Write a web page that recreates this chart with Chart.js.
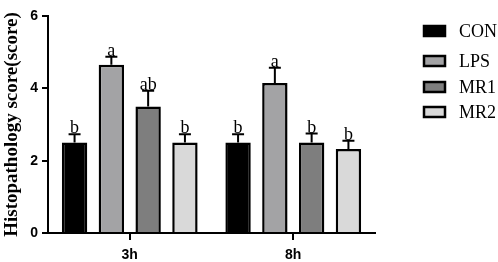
<!DOCTYPE html>
<html>
<head>
<meta charset="utf-8">
<script src="https://cdn.jsdelivr.net/npm/chart.js@4/dist/chart.umd.min.js"></script>
<style>
  html, body { margin: 0; padding: 0; background: white; }
  #wrap { width: 498px; height: 262px; }
</style>
</head>
<body>
<div id="wrap"><canvas id="histChart" width="498" height="262"></canvas></div>
<script>
const timePoints = ["3h", "8h"]
const groupNames = ["CON", "LPS", "MR1", "MR2"]
const groupColors = ["#000000", "#a3a3a5", "#7e7e7e", "#d9d9d9"]
// mean score per group, one entry per time point
const conValues = [2.5, 2.5]
const lpsValues = [4.65, 4.15]
const mr1Values = [3.5, 2.5]
const mr2Values = [2.5, 2.32]
// standard error (drawn upward only)
const conErrors = [0.23, 0.23]
const lpsErrors = [0.22, 0.42]
const mr1Errors = [0.43, 0.25]
const mr2Errors = [0.23, 0.23]
// significance letters
const conLetters = ["b", "b"]
const lpsLetters = ["a", "a"]
const mr1Letters = ["ab", "b"]
const mr2Letters = ["b", "b"]
const yTicks = [0, 2, 4, 6]

const allValues = [conValues, lpsValues, mr1Values, mr2Values]
const allErrors = [conErrors, lpsErrors, mr1Errors, mr2Errors]
const allLetters = [conLetters, lpsLetters, mr1Letters, mr2Letters]

var datasets = []
for (var i in groupNames){
    datasets.push({
        label: groupNames[i],
        data: allValues[i],
        errors: allErrors[i],
        letters: allLetters[i],
        backgroundColor: groupColors[i],
        borderColor: "#000000",
        borderWidth: 2.5,
        borderSkipped: 'bottom',
        categoryPercentage: 0.9,
        barPercentage: 0.69
    })
}

// error bars + letters on top
const errorBarPlugin = {
    id: 'errorBars',
    afterDatasetsDraw(chart) {
        const ctx = chart.ctx
        const y = chart.scales.y
        ctx.save()
        chart.data.datasets.forEach((ds, di) => {
            const meta = chart.getDatasetMeta(di)
            meta.data.forEach((bar, j) => {
                const top = y.getPixelForValue(ds.data[j] + ds.errors[j])
                const x = bar.x
                ctx.strokeStyle = "#000000"
                ctx.lineWidth = 2
                ctx.beginPath()
                ctx.moveTo(x, bar.y)
                ctx.lineTo(x, top)
                ctx.moveTo(x - 6, top)
                ctx.lineTo(x + 6, top)
                ctx.stroke()

                ctx.fillStyle = "#000000"
                ctx.font = "18px 'Liberation Serif', 'Times New Roman', serif"
                ctx.textAlign = "center"
                ctx.textBaseline = "alphabetic"
                ctx.fillText(ds.letters[j], x, top - 1)
            })
        })
        ctx.restore()
    }
}

// legend on the right, drawn by hand
const sideLegend = {
    id: 'sideLegend',
    afterDraw(chart) {
        const ctx = chart.ctx
        const rows = [31, 61, 87, 112]
        ctx.save()
        chart.data.datasets.forEach((ds, i) => {
            const yy = rows[i]
            ctx.fillStyle = ds.backgroundColor
            ctx.fillRect(424, yy - 5, 21, 10)
            ctx.strokeStyle = "#000000"
            ctx.lineWidth = 2.5
            ctx.strokeRect(424, yy - 5, 21, 10)
            ctx.fillStyle = "#000000"
            ctx.font = "18px 'Liberation Serif', 'Times New Roman', serif"
            ctx.textAlign = "left"
            ctx.textBaseline = "middle"
            ctx.fillText(ds.label, 459, yy + 1)
        })
        ctx.restore()
    }
}

const ctx = document.getElementById("histChart").getContext('2d')
var chart = new Chart(ctx, {
    type: "bar",
    data: {
        labels: timePoints,
        datasets: datasets
    },
    options: {
        responsive: false,
        animation: false,
        layout: {
            padding: { left: 1, right: 123, top: 16, bottom: 0 }
        },
        scales: {
            x: {
                afterFit: (scale) => { scale.height = 29 },
                grid: {
                    display: true,
                    drawOnChartArea: false,
                    offset: false,
                    color: "#000000",
                    lineWidth: 2,
                    tickLength: 7
                },
                border: { color: "#000000", width: 2 },
                ticks: {
                    color: "#000000",
                    padding: 7,
                    font: { family: "Liberation Sans, Arial, sans-serif", size: 14, weight: "bold" }
                }
            },
            y: {
                min: 0,
                max: 6,
                afterFit: (scale) => { scale.width = 47 },
                afterBuildTicks: (axis) => { axis.ticks = yTicks.map(v => ({ value: v })) },
                grid: {
                    display: true,
                    drawOnChartArea: false,
                    color: "#000000",
                    lineWidth: 2,
                    tickLength: 6
                },
                border: { color: "#000000", width: 2 },
                ticks: {
                    color: "#000000",
                    padding: 4,
                    font: { family: "Liberation Sans, Arial, sans-serif", size: 14, weight: "bold" }
                },
                title: {
                    display: true,
                    text: "Histopathology score(score)",
                    color: "#000000",
                    padding: { top: 0, bottom: 2 },
                    font: { family: "Liberation Serif, 'Times New Roman', serif", size: 19, weight: "bold" }
                }
            }
        },
        plugins: {
            legend: { display: false },
            tooltip: { enabled: false }
        }
    },
    plugins: [errorBarPlugin, sideLegend]
})
</script>
</body>
</html>
